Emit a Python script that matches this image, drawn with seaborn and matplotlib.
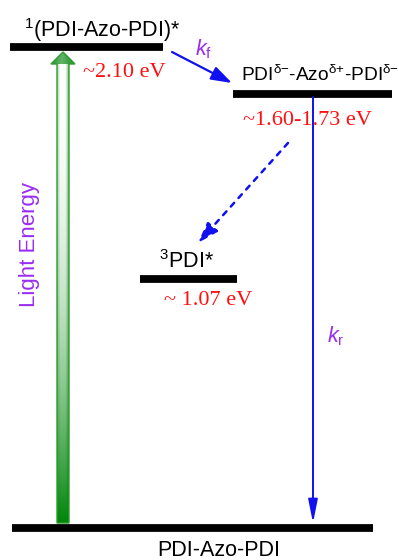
import numpy as np
import pandas as pd
import matplotlib
matplotlib.use("Agg")
import matplotlib.pyplot as plt
from matplotlib.patches import Polygon
import seaborn as sns

# ---- diagram content -------------------------------------------------------
level_names = ["S1", "CT", "T1", "S0"]
level_labels = [r"$^{1}$(PDI-Azo-PDI)*",
                "PDI$^{δ{\u2212}}$-Azo$^{δ{+}}$-PDI$^{δ{\u2212}}$",
                r"$^{3}$PDI*",
                "PDI-Azo-PDI"]
energy_labels = ["~2.10 eV", "~1.60-1.73 eV", "~ 1.07 eV", ""]
rate_labels = [r"$\mathit{k}_{\mathrm{f}}$", r"$\mathit{k}_{\mathrm{r}}$"]
axis_label = "Light Energy"

# ---- schematic layout (diagram units, y grows upward) ----------------------
level_y = [513.5, 466.0, 281.0, 32.0]
level_x0 = [10, 233, 140, 12]
level_x1 = [163, 392, 237, 373]

sns.set_theme(style="white")
plt.rcParams["font.family"] = ["Liberation Sans", "DejaVu Sans"]
plt.rcParams["mathtext.fontset"] = "custom"
plt.rcParams["mathtext.rm"] = "Liberation Sans"
plt.rcParams["mathtext.it"] = "Liberation Sans:italic"
plt.rcParams["mathtext.default"] = "regular"

PURPLE = "#9a2cf0"
RED = "#ff1010"
BLUE = "#1010f0"

fig = plt.figure(figsize=(3.99, 5.60), dpi=100)
ax = fig.add_axes([0, 0, 1, 1])

# energy levels as thick horizontal segments
rows = []
for name, y, x0, x1 in zip(level_names, level_y, level_x0, level_x1):
    rows.append({"level": name, "x": x0, "y": y})
    rows.append({"level": name, "x": x1, "y": y})
levels = pd.DataFrame(rows)
sns.lineplot(data=levels, x="x", y="y", units="level", estimator=None,
             sort=False, color="black", lw=5.6, solid_capstyle="butt",
             legend=False, ax=ax)

# level names
ax.text(102, 523, level_labels[0], ha="center", va="baseline", fontsize=15.5,
        color="black")
ax.text(241, 479, level_labels[1], ha="left", va="baseline", fontsize=13.8,
        color="black")
ax.text(186, 292, level_labels[2], ha="center", va="baseline", fontsize=15.5,
        color="black")
ax.text(219, 4.5, level_labels[3], ha="center", va="baseline", fontsize=15.5,
        color="black")

# energies
serif = ["Liberation Serif", "DejaVu Serif"]
ax.text(83, 483, energy_labels[0], ha="left", va="baseline", fontsize=16,
        color=RED, family=serif)
ax.text(307, 435, energy_labels[1], ha="center", va="baseline", fontsize=16,
        color=RED, family=serif)
ax.text(208, 255, energy_labels[2], ha="center", va="baseline", fontsize=16,
        color=RED, family=serif)

# excitation arrow with a green gradient fill
tip_y, base_y, head_y = 508, 37, 496
sx0, sx1, hx0, hx1, cx = 57, 69, 51, 75, 63
verts = [(sx0, base_y), (sx1, base_y), (sx1, head_y), (hx1, head_y),
         (cx, tip_y), (hx0, head_y), (sx0, head_y)]
ny, nx = tip_y - base_y, hx1 - hx0
green = np.array([0.0, 0.52, 0.04])
white = np.ones(3)
img = np.ones((ny, nx, 3))
for i in range(ny):
    y = tip_y - i - 0.5
    for j in range(nx):
        x = hx0 + j + 0.5
        if y > head_y:
            u = (x - hx0) / (hx1 - hx0)
            f = 0.62 + 0.5 * abs(u - 0.45)
        else:
            t = np.clip((head_y - y) / (head_y - base_y), 0, 1)
            fv = t ** 2.2
            u = np.clip((x - sx0) / (sx1 - sx0), 0, 1)
            d = min(u, 1 - u)
            e = max(0.0, 1 - d / 0.3) * 0.55
            if u < 0.35:
                e *= 0.6
            f = fv + (1 - fv) * e
        f = min(f, 1.0)
        img[i, j] = white * (1 - f) + green * f
im = ax.imshow(img, extent=(hx0, hx1, base_y, tip_y), origin="upper",
               aspect="auto", interpolation="bilinear", zorder=2)
arrow_shape = Polygon(verts, closed=True, facecolor="none",
                      edgecolor="#2f9a2f", lw=1.0, zorder=3)
ax.add_patch(arrow_shape)
im.set_clip_path(arrow_shape)

ax.text(30, 315.5, axis_label, rotation=90, ha="center", va="center",
        fontsize=16, color=PURPLE)

# transitions
ax.annotate("", xy=(232, 477), xytext=(172, 508),
            arrowprops=dict(arrowstyle="-|>,head_length=0.9,head_width=0.3",
                            color=BLUE, lw=1.6, mutation_scale=14,
                            shrinkA=0, shrinkB=0))
ax.annotate("", xy=(198, 317), xytext=(288, 417),
            arrowprops=dict(arrowstyle="-|>,head_length=0.9,head_width=0.3",
                            color=BLUE, lw=1.8, linestyle=(0, (2.0, 2.6)),
                            mutation_scale=14, shrinkA=0, shrinkB=0))
ax.annotate("", xy=(313, 37), xytext=(313, 463),
            arrowprops=dict(arrowstyle="-|>,head_length=1.0,head_width=0.2",
                            color=BLUE, lw=1.4, mutation_scale=14,
                            shrinkA=0, shrinkB=0))

ax.text(195, 505, rate_labels[0], ha="left", va="baseline", fontsize=15.5,
        color=PURPLE)
ax.text(327, 218, rate_labels[1], ha="left", va="baseline", fontsize=15.5,
        color=PURPLE)

ax.set_xlim(0, 399)
ax.set_ylim(0, 560)
ax.axis("off")

fig.savefig("out.png", dpi=100)
